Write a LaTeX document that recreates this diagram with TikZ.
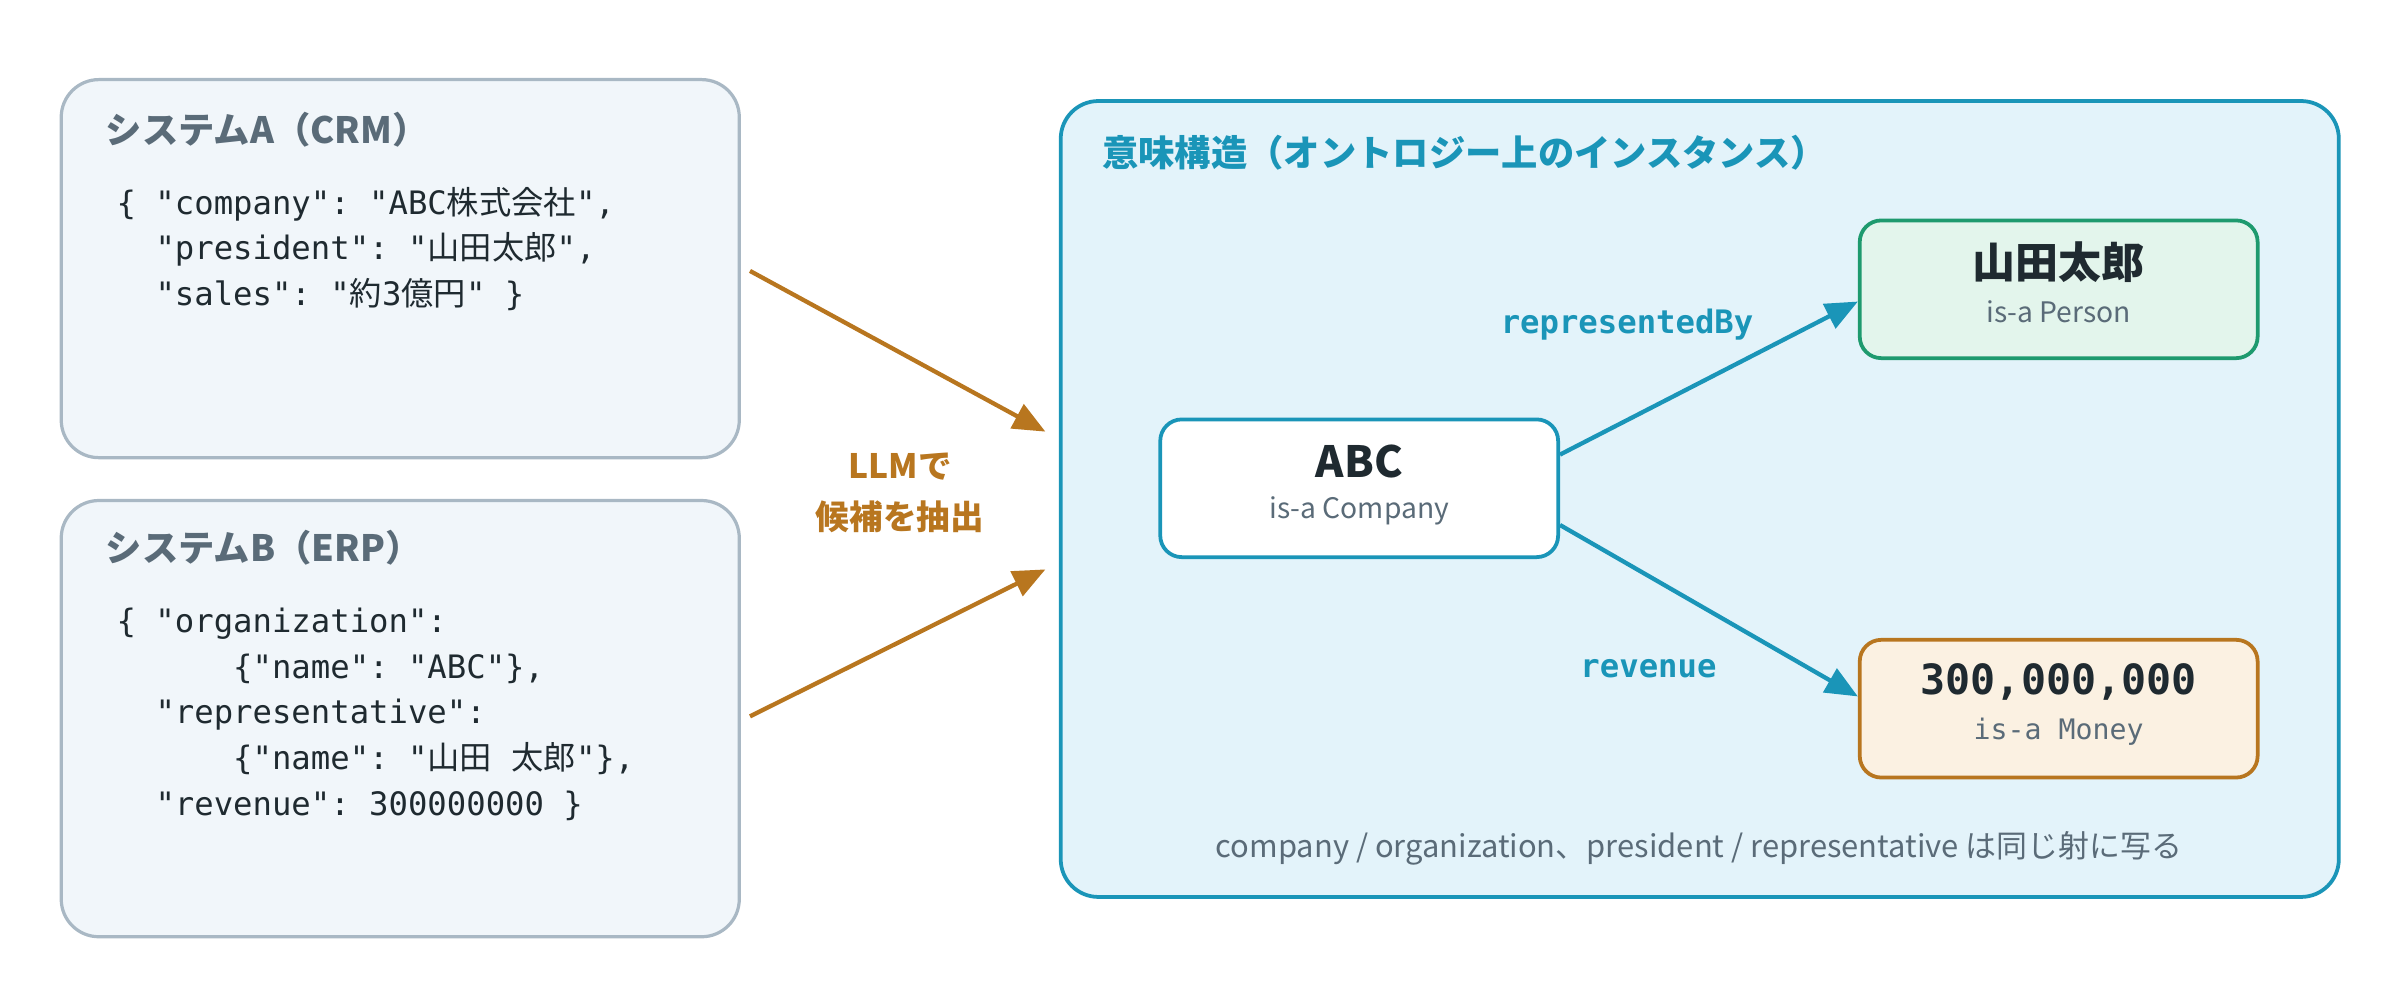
\documentclass[tikz,border=0pt]{standalone}
\usepackage{fontspec}
\setmainfont{Noto Sans CJK JP}
\setmonofont{DejaVu Sans Mono}
\newfontfamily\cjk{Noto Sans CJK JP}
\usetikzlibrary{arrows.meta,positioning}
\definecolor{srcfill}{HTML}{F1F6FA}
\definecolor{srcline}{HTML}{A9B8C4}
\definecolor{srctext}{HTML}{5A6B78}
\definecolor{llm}{HTML}{B8761F}
\definecolor{ontfill}{HTML}{E3F3FA}
\definecolor{ontline}{HTML}{1A95B8}
\definecolor{perfill}{HTML}{E3F5EC}
\definecolor{perline}{HTML}{1E9A6E}
\definecolor{monfill}{HTML}{FBF1E2}
\definecolor{ink}{HTML}{1F2A30}
\tikzset{
  panel/.style={draw=srcline,fill=srcfill,rounded corners=14pt,line width=1.2pt},
  title/.style={anchor=west,font=\fontsize{13.5}{16}\selectfont\bfseries,text=srctext},
  code/.style={anchor=north west,align=left,font=\fontsize{12}{17}\ttfamily,text=ink},
  inst/.style={draw=ontline,fill=white,rounded corners=8pt,line width=1.4pt,minimum width=5.2cm,minimum height=1.8cm},
  big/.style={font=\fontsize{16}{19}\selectfont\bfseries,text=ink},
  small/.style={font=\fontsize{10.5}{13}\selectfont,text=srctext},
  extract/.style={-{Triangle[length=12pt,width=10pt]},draw=llm,line width=1.6pt},
  rel/.style={-{Triangle[length=12pt,width=10pt]},draw=ontline,line width=1.6pt},
  rellabel/.style={font=\fontsize{12}{15}\ttfamily\bfseries,text=ontline}
}
\begin{document}
\begin{tikzpicture}[x=0.02cm,y=-0.02cm]
\useasboundingbox (0,0) rectangle (1568,653);
% source systems
\draw[panel] (40,52) rectangle (483,299);
\node[title] (tA) at (63,85) {システムA（CRM）};
\node[code] (cA) at (70,116) {\{ "company": "ABC{\cjk 株式会社}",\\
\ \ "president": "{\cjk 山田太郎}",\\
\ \ "sales": "{\cjk 約}3{\cjk 億円}" \}};
\draw[panel] (40,327) rectangle (483,612);
\node[title] (tB) at (63,358) {システムB（ERP）};
\node[code] (cB) at (70,391) {\{ "organization":\\
\ \ \ \ \ \ \{"name": "ABC"\},\\
\ \ "representative":\\
\ \ \ \ \ \ \{"name": "{\cjk 山田} {\cjk 太郎}"\},\\
\ \ "revenue": 300000000 \}};
% extraction
\coordinate (fromA) at (490,177);
\coordinate (toA) at (683,282);
\coordinate (fromB) at (490,468);
\coordinate (toB) at (683,372);
\draw[extract] (fromA) -- (toA);
\draw[extract] (fromB) -- (toB);
\node[align=center,font=\fontsize{12.5}{19}\selectfont\bfseries,text=llm] (llm) at (588,322) {LLMで\\候補を抽出};
% ontology
\draw[draw=ontline,fill=ontfill,rounded corners=14pt,line width=1.4pt] (693,66) rectangle (1528,586);
\node[title,text=ontline] (tO) at (714,100) {意味構造（オントロジー上のインスタンス）};
\node[inst] (abc) at (888,319) {};
\node[big] at ([yshift=10pt]abc.center) {ABC};
\node[small] at ([yshift=-8.5pt]abc.center) {is-a Company};
\node[inst,draw=perline,fill=perfill] (yamada) at (1345,189) {};
\node[big] at ([yshift=10pt]yamada.center) {山田太郎};
\node[small] at ([yshift=-8.5pt]yamada.center) {is-a Person};
\node[inst,draw=llm,fill=monfill] (money) at (1345,463) {};
\node[big,font=\fontsize{15.5}{19}\ttfamily\bfseries] at ([yshift=10pt]money.center) {300,000,000};
\node[small,font=\fontsize{10.5}{13}\ttfamily] at ([yshift=-8.5pt]money.center) {is-a Money};
\draw[rel] (abc.east|-1018,297) -- (yamada.west|-1212,197);
\draw[rel] (abc.east|-1018,343) -- (money.west|-1212,455);
\node[rellabel] (l1) at (1063,212) {representedBy};
\node[rellabel] (l2) at (1077,437) {revenue};
\node[font=\fontsize{11.5}{14}\selectfont,text=srctext] (note) at (1110,554) {company / organization、president / representative は同じ射に写る};
\end{tikzpicture}
\end{document}
